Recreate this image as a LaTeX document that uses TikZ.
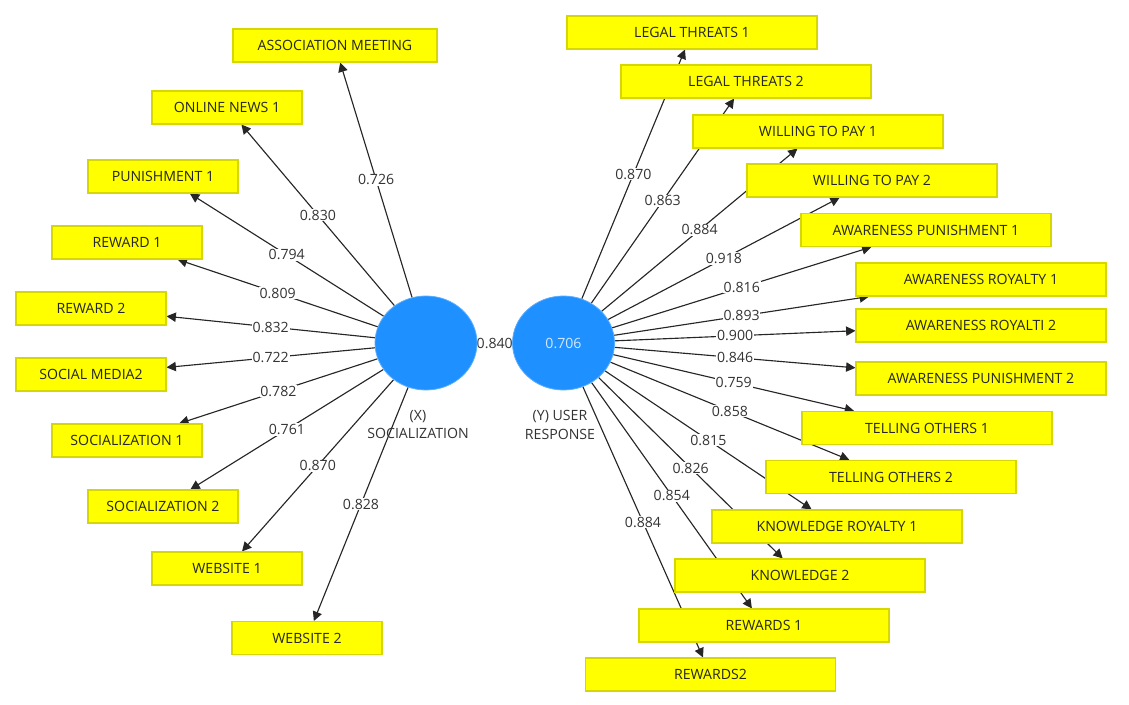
\documentclass[tikz,border=0pt]{standalone}
\usepackage{fontspec}
\setmainfont{Open Sans}
\usepackage{tikz}
\usetikzlibrary{arrows.meta,positioning,shapes.geometric,backgrounds}
\usepackage{xcolor}
\definecolor{lvblue}{HTML}{1E90FF}
\definecolor{lvedge}{HTML}{5AAEFF}
\definecolor{indfill}{HTML}{FFFF00}
\definecolor{indedge}{HTML}{D6D600}
\definecolor{ldtext}{HTML}{333333}

\begin{document}
\begin{tikzpicture}[
  x=0.75pt, y=-0.75pt,
  every node/.style={font=\fontsize{10.6}{14.2}\selectfont},
  lv/.style={ellipse, draw=lvedge, fill=lvblue, line width=0.6pt, minimum width=76.5pt, minimum height=70.5pt, inner sep=0pt},
  lvname/.style={align=center, text=ldtext},
  ind/.style={draw=indedge, fill=indfill, line width=0.8pt, minimum width=112.5pt, minimum height=24.75pt, inner sep=1pt, text=black!85},
  indw/.style={ind, minimum width=187.5pt},
  load/.style={-{Triangle[length=7pt,width=7pt]}, line width=0.85pt, black!85},
  ld/.style={fill=white, inner sep=0.6pt, text=ldtext}
]
  \useasboundingbox (0,0) rectangle (1129,705);

  \node[lv] (X) at (426,343) {};
  \node[lv] (Y) at (563.5,343) {\textcolor{white!80!lvblue}{0.706}};
  \node[lvname] (Xname) at (418,424.5) {(X)\\SOCIALIZATION};
  \node[lvname] (Yname) at (560,424.5) {(Y) USER\\RESPONSE};

  \node[ind, minimum width=153pt] (am) at (335,45.5) {ASSOCIATION MEETING};
  \node[ind] (on1) at (227,107.5) {ONLINE NEWS 1};
  \node[ind] (pu1) at (163,176.5) {PUNISHMENT 1};
  \node[ind] (rw1) at (127,242.5) {REWARD 1};
  \node[ind] (rw2) at (91,308.5) {REWARD 2};
  \node[ind] (sm2) at (91,374.5) {SOCIAL MEDIA2};
  \node[ind] (so1) at (127,440.5) {SOCIALIZATION 1};
  \node[ind] (so2) at (163,506.5) {SOCIALIZATION 2};
  \node[ind] (ws1) at (227,568.5) {WEBSITE 1};
  \node[ind] (ws2) at (307,638) {WEBSITE 2};

  \node[indw] (lt1) at (692,32.5) {LEGAL THREATS 1};
  \node[indw] (lt2) at (746,81.5) {LEGAL THREATS 2};
  \node[indw] (wp1) at (818,131.5) {WILLING TO PAY 1};
  \node[indw] (wp2) at (872,180.5) {WILLING TO PAY 2};
  \node[indw] (ap1) at (926,230) {AWARENESS PUNISHMENT 1};
  \node[indw] (ar1) at (981,279.5) {AWARENESS ROYALTY 1};
  \node[indw] (ar2) at (981,325.5) {AWARENESS ROYALTI 2};
  \node[indw] (ap2) at (981,378.5) {AWARENESS PUNISHMENT 2};
  \node[indw] (to1) at (927,428) {TELLING OTHERS 1};
  \node[indw] (to2) at (891,477) {TELLING OTHERS 2};
  \node[indw] (kr1) at (837,526.5) {KNOWLEDGE ROYALTY 1};
  \node[indw] (kn2) at (800,575.5) {KNOWLEDGE 2};
  \node[indw] (rs1) at (764,625.5) {REWARDS 1};
  \node[indw] (rs2) at (710.5,674.5) {REWARDS2};

  \begin{scope}[on background layer]
    \foreach \ind/\val in {am/0.726, on1/0.830, pu1/0.794, rw1/0.809, rw2/0.832,
                           sm2/0.722, so1/0.782, so2/0.761, ws1/0.870, ws2/0.828}
      \draw[load] (X) -- node[ld] {\val} (\ind);
    \foreach \ind/\val in {lt1/0.870, lt2/0.863, wp1/0.884, wp2/0.918, ap1/0.816,
                           ar1/0.893, ar2/0.900, ap2/0.846, to1/0.759, to2/0.858,
                           kr1/0.815, kn2/0.826, rs1/0.854, rs2/0.884}
      \draw[load] (Y) -- node[ld] {\val} (\ind);
    \draw[load] (X) -- node[ld] {0.840} (Y);
  \end{scope}
\end{tikzpicture}
\end{document}
